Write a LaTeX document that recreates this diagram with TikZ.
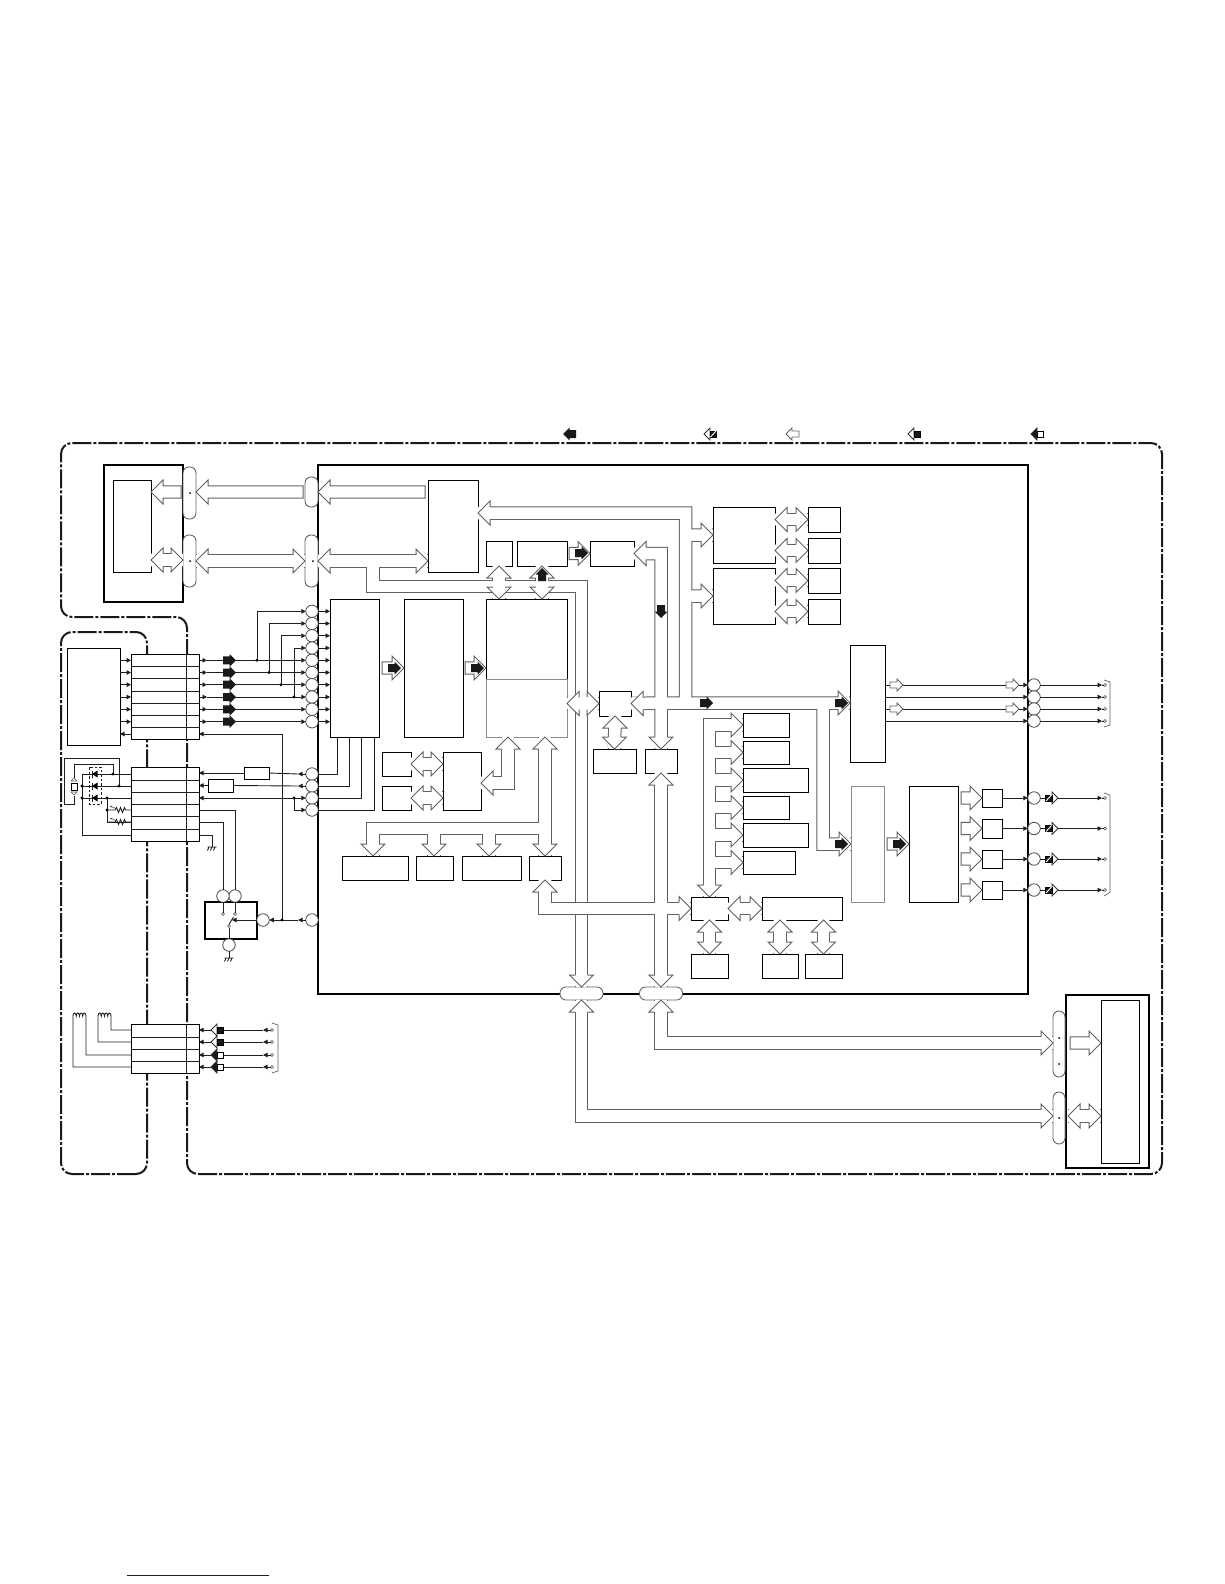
\documentclass[tikz,border=0pt]{standalone}
\usepackage{xcolor}
\usepackage{tikz}
\usetikzlibrary{arrows.meta,calc,fit,positioning}
\definecolor{linkblue}{RGB}{20,20,130}
\tikzset{
  blk/.style={draw=black,line width=1pt,fill=white,inner sep=0pt,outer sep=0pt},
  heavy/.style={blk,line width=2pt},
  palebox/.style={blk,draw=black!45},
  pin/.style={draw=black!70,circle,minimum size=12.5pt,inner sep=0pt,outer sep=0pt,fill=white,line width=.8pt},
  term/.style={draw=black!70,circle,minimum size=3pt,inner sep=0pt,outer sep=0pt,fill=white,line width=.6pt},
  plug/.style={draw=black!60,line width=.9pt,rounded corners=6pt,fill=white,inner sep=0pt,outer sep=0pt},
  bus/.style={draw=black!62,line width=1pt,double=white,double distance=11.5pt},
  busline/.style={draw=black!62,line width=1pt,line join=miter},
  wire/.style={line width=.9pt,draw=black!88},
  wiretip/.style={wire,-{Triangle[length=4.5pt,width=4.5pt]}},
  frameline/.style={line width=2pt,draw=black!90,dash pattern=on 19pt off 2pt on 3pt off 2pt,rounded corners=11pt},
  coilarc/.style={start angle=180,end angle=0,x radius=1.62pt,y radius=3pt},
}
\newcommand{\bushead}[2]{%
  \fill[white,shift={(#1)},rotate=#2] (-12,-7) rectangle (-.7,7);
  \fill[white,shift={(#1)},rotate=#2] (0,0) -- (-12,12) -- (-12,-12) -- cycle;
  \draw[busline,shift={(#1)},rotate=#2] (-12,6.2) -- (-12,12) -- (0,0) -- (-12,-12) -- (-12,-6.2);}
\newcommand{\busarrow}[3]{%
  \draw[busline,fill=white,shift={(#1)},rotate=#2] (0,0) -- (-12,12) -- (-12,6.2) -- (-#3,6.2) -- (-#3,-6.2) -- (-12,-6.2) -- (-12,-12) -- cycle;}
\newcommand{\solidarrow}[2]{%
  \fill[black!90,shift={(#1)},rotate=#2] (0,0) -- (-6.5,6.5) -- (-6.5,4) -- (-13,4) -- (-13,-4) -- (-6.5,-4) -- (-6.5,-6.5) -- cycle;}
\newcommand{\tinyarrow}[2]{%
  \draw[busline,line width=.8pt,fill=white,shift={(#1)},rotate=#2] (0,0) -- (-6,6) -- (-6,3) -- (-13,3) -- (-13,-3) -- (-6,-3) -- (-6,-6) -- cycle;}
\newcommand{\keyhead}[4]{%
  \draw[black!80,line width=.8pt,fill=#3,shift={(#1)},rotate=#2] (0,0) -- (-6,6) -- (-6,-6) -- cycle;
  \draw[black,line width=.9pt,fill=#4,shift={(#1)},rotate=#2] (-6,-3) rectangle (-12.5,3);}
\newcommand{\slashkey}[2]{%
  \keyhead{#1}{#2}{white}{black!90}
  \draw[white,line width=.9pt,shift={(#1)},rotate=#2] (-6.5,-3) -- (-12,3);}
\newcommand{\gnd}[1]{\draw[wire,shift={(#1)}] (-4.5,0) -- (4.5,0) (-3,0) -- (-4.5,3.5) (0,0) -- (-1.5,3.5) (3,0) -- (1.5,3.5);}
\newcommand{\wdot}[1]{\fill[black] (#1) circle[radius=1.6pt];}
\newcommand{\diode}[1]{\fill[black,shift={(#1)}] (-3,0) -- (2.5,-3.5) -- (2.5,3.5) -- cycle; \draw[wire,shift={(#1)}] (-3,-3.5) -- (-3,3.5);}
\newcommand{\varres}[1]{\draw[wire,shift={(#1)}] (0,0) -- (8,0) -- (9.5,-2.5) -- (11.5,2.5) -- (13.5,-2.5) -- (15.5,2.5) -- (17.5,-2.5) -- (18.5,0) -- (24,0);
  \draw[line width=.6pt,-{Stealth[length=2pt,width=2pt]},shift={(#1)},black!70] (10,-1) -- (3,-4);}

\begin{document}
\begin{tikzpicture}[x=1pt,y=-1pt]
  \useasboundingbox (0,0) rectangle (1224,1584);
  % outer dash dot frames
  \draw[frameline] (187,1174) -- (1162,1174) -- (1162,443) -- (61,443) -- (61,617) -- (187,617) -- cycle;
  \draw[frameline] (147,1174) -- (61,1174) -- (61,632) -- (147,632) -- cycle;
  \draw[linkblue,line width=1pt] (127,1575) -- (269,1575);

  % legend
  \solidarrow{563,434}{180}
  \slashkey{704,434}{180}
  \tinyarrow{786,434}{180}
  \keyhead{908,434}{180}{white}{black!90}
  \keyhead{1031,434}{180}{black!90}{white}

  % big boxes
  \node[heavy,fit={(318,465) (1028,994)}] (mainbox) {};
  \node[heavy,fit={(104,465) (183,602)}] (topunit) {};
  \node[blk,fit={(113,480) (151,572)}] (topchip) {};
  \node[heavy,fit={(1066,995) (1149,1168)}] (lowunit) {};
  \node[blk,fit={(1101,1000) (1139,1163)}] (lowchip) {};

  % blocks in the main box
  \node[blk,fit={(428,480) (478,572)}] (ifbox) {};
  \node[blk,fit={(486,541) (512,566)}] (ioa) {};
  \node[blk,fit={(517,541) (567,566)}] (iob) {};
  \node[blk,fit={(590,541) (634,566)}] (ioc) {};
  \node[blk,fit={(330,599) (379,737)}] (cpu) {};
  \node[blk,fit={(404,599) (463,737)}] (dsp) {};
  \node[blk,fit={(486,599) (567,679)}] (mempa) {};
  \node[palebox,fit={(486,679) (567,737)}] (mempb) {};
  \node[blk,fit={(382,752) (411,776)}] (ua) {};
  \node[blk,fit={(382,786) (411,810)}] (ub) {};
  \node[blk,fit={(443,752) (481,810)}] (qbox) {};
  \node[blk,fit={(342,856) (408,880)}] (rbox) {};
  \node[blk,fit={(416,856) (453,880)}] (sbox) {};
  \node[blk,fit={(462,856) (521,880)}] (tbox) {};
  \node[blk,fit={(529,856) (561,880)}] (pbox) {};
  \node[blk,fit={(599,691) (631,716)}] (piod) {};
  \node[blk,fit={(593,749) (636,773)}] (pioe) {};
  \node[blk,fit={(645,749) (677,773)}] (boxe) {};
  \node[blk,fit={(713,507) (775,563)}] (vpa) {};
  \node[blk,fit={(713,568) (775,624)}] (vpb) {};
  \node[blk,fit={(808,507) (840,532)}] (vma) {};
  \node[blk,fit={(808,538) (840,563)}] (vmb) {};
  \node[blk,fit={(808,568) (840,593)}] (vmc) {};
  \node[blk,fit={(808,599) (840,624)}] (vmd) {};
  \node[blk,fit={(850,645) (885,762)}] (blkf) {};
  \node[palebox,fit={(851,786) (884,902)}] (blkg) {};
  \node[blk,fit={(909,786) (958,902)}] (blkh) {};
  \node[blk,fit={(982,789) (1002,807)}] (sa) {};
  \node[blk,fit={(982,819) (1002,838)}] (sb) {};
  \node[blk,fit={(982,850) (1002,868)}] (sc) {};
  \node[blk,fit={(982,881) (1002,899)}] (sd) {};
  \node[blk,fit={(743,713) (789,737)}] (ca) {};
  \node[blk,fit={(743,741) (789,764)}] (cb) {};
  \node[blk,fit={(743,768) (808,792)}] (cc) {};
  \node[blk,fit={(743,796) (789,819)}] (cd) {};
  \node[blk,fit={(743,823) (808,847)}] (ce) {};
  \node[blk,fit={(743,851) (795,874)}] (cf) {};
  \node[blk,fit={(691,897) (728,920)}] (jbox) {};
  \node[blk,fit={(762,897) (842,920)}] (kbox) {};
  \node[blk,fit={(691,954) (728,978)}] (lbox) {};
  \node[blk,fit={(762,954) (798,978)}] (mbox) {};
  \node[blk,fit={(805,954) (842,978)}] (nbox) {};

  % plugs on the box edges
  \node[plug,fit={(183,467) (196,519)}] (plga) {};
  \node[plug,fit={(183,535) (196,587)}] (plgb) {};
  \node[plug,fit={(305,477) (318,507)}] (plgc) {};
  \node[plug,fit={(305,535) (318,587)}] (plgd) {};
  \node[plug,fit={(560,987) (603,1000)}] (plgl) {};
  \node[plug,fit={(639.5,987) (682.5,1000)}] (plgr) {};
  \node[plug,fit={(1053,1011) (1065,1077)}] (plgg) {};
  \node[plug,fit={(1053,1092) (1065,1144)}] (plgh) {};
  \foreach \x/\y in {190/493,190/561,313/561,1059/1038,1059/1064,1059/1118}
    \fill[black] (\x,\y) circle[radius=1pt];

  % buses
  \draw[bus] (plgd.east) -- (ifbox.west |- plgd.east) (373,560) |- (plgl.north |- 0,586.5) -- (plgl.north)
    (ioa.south) -- (ioa.south |- mempa.north) (iob.south) -- (iob.south |- mempa.north)
    (mempb.east |- piod.west) -- (piod.west);
  \draw[bus] (ifbox.east |- 0,513) -| (685.5,703) (661,703) -- (blkf.west |- 0,703)
    (685.5,535) -- (vpa.west) (685.5,596) -- (vpb.west)
    (ioc.east) -| (661,703) (piod.east) -- (661,703) -- (boxe.north)
    (823,703) |- (blkg.west |- 0,844);
  \draw[bus] (pbox.north |- mempb.south) -- (pbox.north) (373,0 |- rbox.north) |- (pbox.north |- 0,828.5)
    (434,828.5) -- (434,0 |- sbox.north) (489,828.5) -- (489,0 |- tbox.north);
  \draw[bus] (pbox.south) |- (jbox.west) (boxe.south) -- (boxe.south |- plgr.north);
  \draw[bus] (508,0 |- mempb.south) |- (qbox.east |- 0,783);
  \draw[bus] (jbox.north) |- (ca.west)
    \foreach \n in {cb,cc,cd,ce,cf} {(jbox.north |- \n.west) -- (\n.west)};
  \draw[bus] (plgr.south) |- (plgg.west |- 0,1043);
  \draw[bus] (plgl.south) |- (plgh.west |- 0,1116);
  \draw[bus] (topchip.east |- 0,560) -- (topunit.east |- 0,560);
  \draw[bus] (plgb.east) -- (plgd.west);
  \draw[bus] (ua.east) -- (qbox.west |- ua.east);
  \draw[bus] (ub.east) -- (qbox.west |- ub.east);
  \draw[bus] (vma.west) -- (vpa.east |- vma.west);
  \draw[bus] (vmb.west) -- (vpa.east |- vmb.west);
  \draw[bus] (vmc.west) -- (vpb.east |- vmc.west);
  \draw[bus] (vmd.west) -- (vpb.east |- vmd.west);
  \draw[bus] (jbox.east) -- (kbox.west);
  \draw[bus] (jbox.south) -- (lbox.north);
  \draw[bus] (mbox.north |- kbox.south) -- (mbox.north);
  \draw[bus] (nbox.north |- kbox.south) -- (nbox.north);
  \draw[bus] (piod.south) -- (pioe.north);
  \draw[bus] (1068,1116) -- (lowchip.west |- 0,1116);

  % bus heads
  \foreach \c/\r in {plgd.east/180,ifbox.west |- plgd.east/0,ioa.south/90,ioa.south |- mempa.north/270,iob.south/90,iob.south |- mempa.north/270,
      mempb.east |- piod.west/180,piod.west/0,plgl.north/270,{ifbox.east |- 0,513}/180,vpa.west/0,vpb.west/0,ioc.east/180,piod.east/180,boxe.north/270,
      {blkf.west |- 0,703}/0,{blkg.west |- 0,844}/0,pbox.north |- mempb.south/90,pbox.north/270,{373,0 |- rbox.north}/270,{434,0 |- sbox.north}/270,{489,0 |- tbox.north}/270,
      pbox.south/90,jbox.west/0,boxe.south/90,boxe.south |- plgr.north/270,{508,0 |- mempb.south}/90,{qbox.east |- 0,783}/180,jbox.north/270,
      ca.west/0,cb.west/0,cc.west/0,cd.west/0,ce.west/0,cf.west/0,plgr.south/90,plgl.south/90,{plgg.west |- 0,1043}/0,{plgh.west |- 0,1116}/0,
      {topchip.east |- 0,560}/180,{topunit.east |- 0,560}/0,plgb.east/180,plgd.west/0,ua.east/180,ub.east/180,qbox.west |- ua.east/0,qbox.west |- ub.east/0,
      vma.west/0,vmb.west/0,vmc.west/0,vmd.west/0,vpa.east |- vma.west/180,vpa.east |- vmb.west/180,vpb.east |- vmc.west/180,vpb.east |- vmd.west/180,
      jbox.east/180,kbox.west/0,jbox.south/90,lbox.north/270,mbox.north |- kbox.south/90,mbox.north/270,nbox.north |- kbox.south/90,nbox.north/270,
      piod.south/90,pioe.north/270,{lowchip.west |- 0,1116}/0,{1068,1116}/180}
    {\bushead{\c}{\r}}

  % closed arrows
  \busarrow{topchip.east |- 0,492}{180}{30}
  \busarrow{plga.east |- 0,492}{180}{107}
  \busarrow{plgc.east}{180}{107}
  \busarrow{ioc.west}{0}{21}
  \busarrow{dsp.west}{0}{22}
  \busarrow{mempa.west |- dsp.west}{0}{21}
  \busarrow{blkh.west |- 0,844}{0}{22}
  \busarrow{lowchip.west |- 0,1043}{0}{31}
  \foreach \n in {sa,sb,sc,sd} {\busarrow{\n.west}{0}{21}}

  % solid arrows on the buses
  \solidarrow{iob.south |- 0,568}{90}
  \solidarrow{588,553}{0}
  \solidarrow{661,618}{270}
  \solidarrow{401,668}{0}
  \solidarrow{484,668}{0}
  \solidarrow{713,703}{0}
  \solidarrow{848,703}{0}
  \solidarrow{848,844}{0}
  \solidarrow{906,844}{0}

  % input pins
  \foreach \i/\y in {1/611.3,2/623.5,3/635.7,4/648,5/660.3,6/672.5,7/684.7,8/697,9/709.3,10/721.7} {
    \node[pin] (pa\i) at (312,\y) {};
    \draw[wiretip] (pa\i.east) -- (cpu.west |- pa\i);
  }
  % connector one
  \node[blk,fit={(67,648) (120,745)}] (sensor) {};
  \node[blk,fit={(131,654) (199,739)}] (cna) {};
  \draw[wire] (186,654) -- (186,739);
  \foreach \y in {666,678,691,703,715,727} \draw[wire] (131,\y) -- (199,\y);
  \foreach \j in {5,...,10} {
    \draw[wiretip] (sensor.east |- pa\j) -- (cna.west |- pa\j);
    \draw[wiretip] (cna.east |- pa\j) -- (207,0 |- pa\j);
    \draw[wiretip] (207,0 |- pa\j) -- (pa\j.west);
    \solidarrow{236,0 |- pa\j}{0}
  }
  \foreach \a/\e/\x in {5/1/257,6/2/269,7/3/281,8/4/294} {
    \draw[wiretip] (\x,0 |- pa\a) |- (pa\e.west);
    \wdot{\x,0 |- pa\a}
  }
  \draw[wiretip] (cna.west |- 0,734) -- (sensor.east |- 0,734);

  % connector two and its wires
  \node[blk,fit={(131,767) (199,841)}] (cnb) {};
  \draw[wire] (186,767) -- (186,841);
  \foreach \y in {780,792,804,816,829} \draw[wire] (131,\y) -- (199,\y);
  \foreach \i/\y/\x in {1/774/337,2/786/349,3/798/361,4/810/374} {
    \node[pin] (pb\i) at (312,\y) {};
    \draw[wire] (pb\i.east) -| (\x,0 |- cpu.south);
  }
  \node[blk,fit={(244,767) (269,779)}] (rb) {};
  \node[blk,fit={(208,779) (233,792)}] (rc) {};
  \draw[wiretip] (pb1.west) -- (298,774);
  \draw[wire] (298,774) -- (rb.east);
  \draw[wiretip] (rb.west) -- (cnb.east |- rb.west);
  \draw[wiretip] (pb2.west) -- (298,786);
  \draw[wire] (298,786) -- (rc.east);
  \draw[wiretip] (rc.west) -- (cnb.east |- rc.west);
  \draw[wire,{Triangle[length=4.5pt,width=4.5pt]}-{Triangle[length=4.5pt,width=4.5pt]}] (cnb.east |- pb3) -- (pb3.west);
  \draw[wiretip] (294,798) |- (pb4.west);
  \wdot{294,798}
  % switch unit
  \node[heavy,fit={(205,902) (257,939)}] (swbox) {};
  \node[pin] (psa) at (235,896) {};
  \node[pin] (psb) at (223,896) {};
  \node[pin] (psc) at (263,920) {};
  \node[pin] (psd) at (229,945) {};
  \node[pin] (pse) at (312,920) {};
  \node[term] (swa) at (235,914) {};
  \node[term] (swb) at (223,914) {};
  \node[term] (swc) at (229,926) {};
  \draw[wire] (cnb.east |- 0,810) -| (psa.north);
  \draw[wire] (cnb.east |- 0,822) -| (psb.north);
  \draw[wire] (cnb.east |- 0,835) -| (212,847);
  \gnd{212,847}
  \draw[wire] (psa.south) -- (swa.north);
  \draw[wire] (psb.south) -- (swb.north);
  \draw[wire] (swc.south) -- (psd.north);
  \draw[wire] (swc.north) -- (233.5,917);
  \draw[wiretip] (psc.west) -- (232,920);
  \draw[wire] (psd.south) -- (229,958);
  \gnd{229,958}
  \draw[wiretip] (pse.west) -- (298,920);
  \draw[wiretip] (298,920) -- (psc.east);
  \draw[wiretip] (282,920) |- (cna.east |- 0,734);
  \wdot{282,920}

  % diodes and sensors on the left
  \draw[wire] (119,786) |- (64,758) |- (74,804) -- (74,796);
  \draw[wire] (113,774) |- (74,764) -- (74,778);
  \draw[wire] (82,774) -- (cnb.west |- 0,774);
  \draw[wire] (82,786) -- (cnb.west |- 0,786);
  \draw[wire] (82,798) -- (cnb.west |- 0,798);
  \draw[wire] (82,774) |- (cnb.west |- 0,835);
  \draw[wire] (107,798) |- (cnb.west |- 0,822);
  \varres{107,810}
  \varres{107,822}
  \node[blk,fit={(71,783) (77,790)}] (photo) {};
  \draw[busline,line width=.6pt,fill=white] (71,781) -- (74,778) -- (77,781) -- cycle (71,792) -- (74,795) -- (77,792) -- cycle;
  \foreach \y in {774,786,798} {\diode{95,\y}}
  \draw[wire,dash pattern=on 2.5pt off 2pt] (89,767) rectangle (101,804);
  \foreach \x/\y in {113/774,119/786,82/786,82/798,107/798,107/810} {\wdot{\x,\y}}

  % connector three, coils, keys
  \node[blk,fit={(131,1024) (199,1073)}] (cnc) {};
  \draw[wire] (186,1024) -- (186,1073);
  \foreach \y in {1037,1049,1061} \draw[wire] (131,\y) -- (199,\y);
  \draw[wire] (cnc.west |- 0,1067) -| (73,1016) arc[coilarc] arc[coilarc] arc[coilarc] arc[coilarc] |- (cnc.west |- 0,1055);
  \draw[wire] (cnc.west |- 0,1042) -| (98,1016) arc[coilarc] arc[coilarc] arc[coilarc] arc[coilarc] |- (cnc.west |- 0,1030);
  \foreach \i/\y in {1/1030,2/1042,3/1055,4/1067} {
    \node[term] (tc\i) at (272,\y) {};
    \draw[wiretip] (tc\i.west) -- (263,\y);
    \draw[wiretip] (263,\y) -- (cnc.east |- tc\i);
  }
  \keyhead{211,1030}{180}{white}{black!90}
  \keyhead{211,1042}{180}{white}{black!90}
  \keyhead{211,1055}{180}{black!90}{white}
  \keyhead{211,1067}{180}{black!90}{white}
  \draw[busline,line width=.7pt] (272,1023) -- (278,1025) -- (278,1071) -- (272,1073);

  % outputs on the right
  \foreach \i/\y in {1/685,2/697,3/709,4/721} {
    \node[pin] (pc\i) at (1034,\y) {};
    \node[term] (td\i) at (1105,\y) {};
    \draw[wiretip] (blkf.east |- pc\i) -- (pc\i.west);
    \draw[wiretip] (pc\i.east) -- (1102,\y);
    \draw[wire] (1102,\y) -- (td\i.west);
  }
  \tinyarrow{903,685}{0}
  \tinyarrow{903,709}{0}
  \tinyarrow{1019,685}{0}
  \tinyarrow{1019,709}{0}
  \draw[busline,line width=.7pt] (1104,680) -- (1110,682) -- (1110,725) -- (1104,727);
  \foreach \i/\n/\y in {1/sa/798,2/sb/828.5,3/sc/859,4/sd/890} {
    \node[pin] (pd\i) at (1034,\y) {};
    \node[term] (te\i) at (1105,\y) {};
    \draw[wiretip] (\n.east) -- (pd\i.west);
    \draw[wiretip] (pd\i.east) -- (1102,\y);
    \draw[wire] (1102,\y) -- (te\i.west);
    \slashkey{1058,\y}{0}
  }
  \draw[busline,line width=.7pt] (1104,793) -- (1110,795) -- (1110,892) -- (1104,896);
\end{tikzpicture}
\end{document}
